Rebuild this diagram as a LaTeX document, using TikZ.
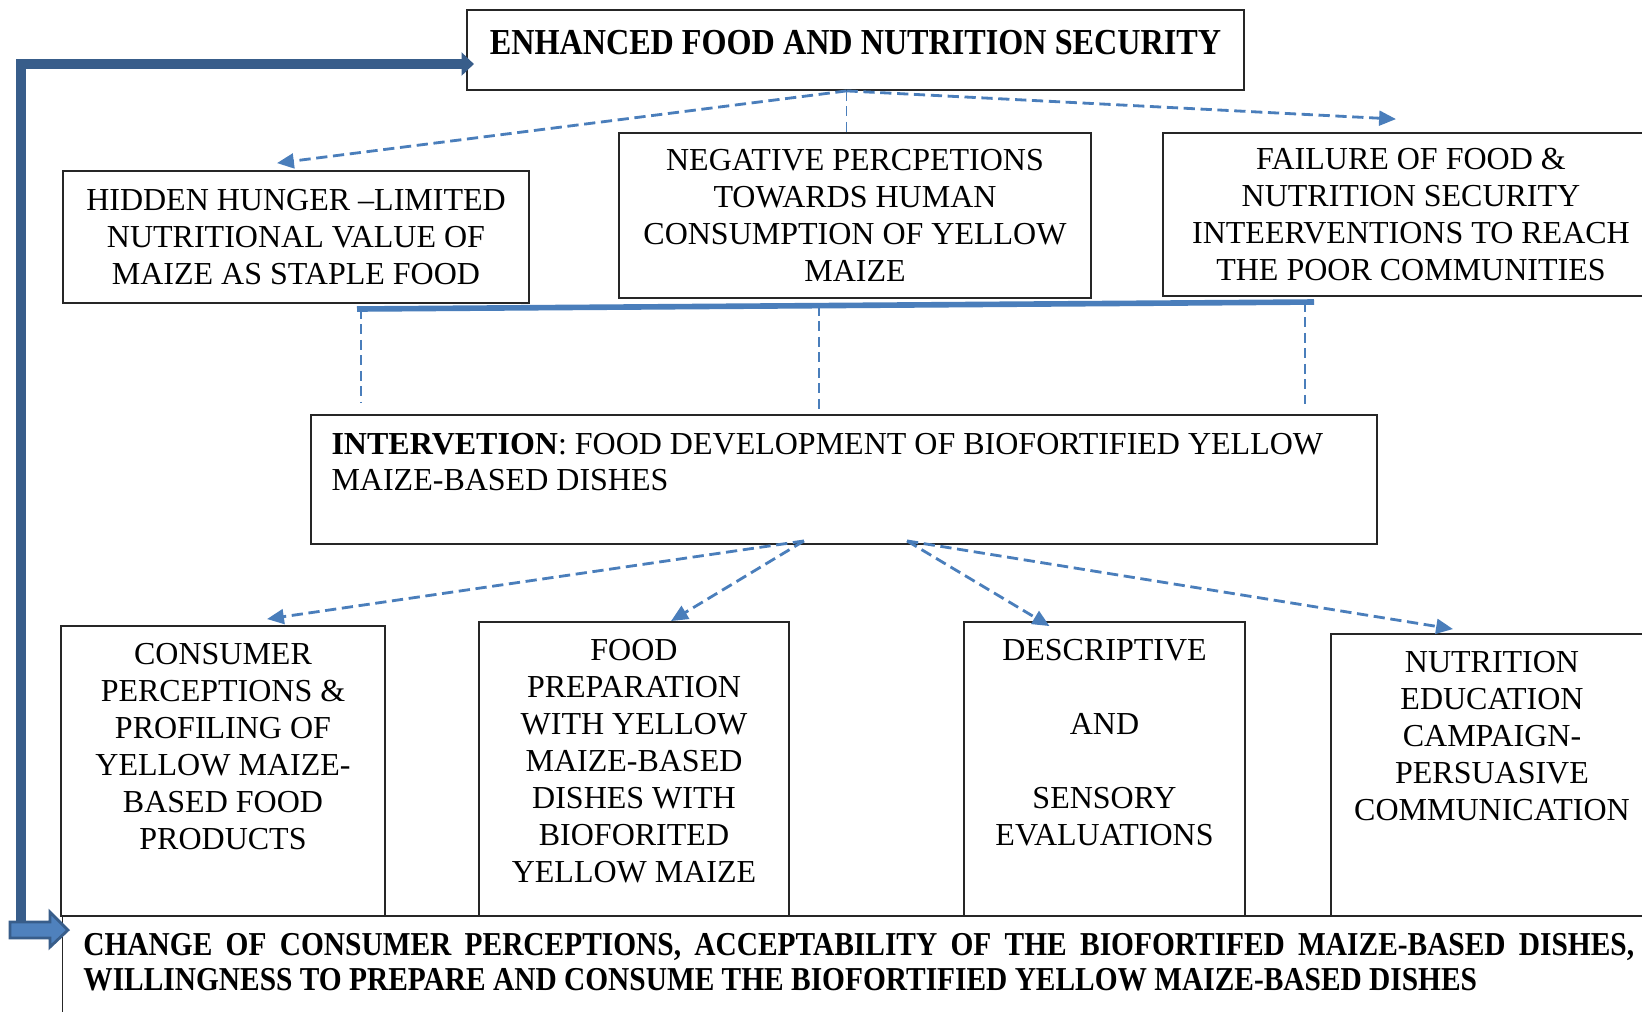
\documentclass[tikz,border=0pt]{standalone}
\usepackage{fontspec}
\setmainfont{Liberation Serif}
\newfontfamily\condfont[FakeStretch=0.88]{Liberation Serif}
\usepackage{xcolor}
\usetikzlibrary{arrows.meta,positioning}
\definecolor{darkblue}{HTML}{385D8A}
\definecolor{midblue}{HTML}{4A7EBB}
\definecolor{fillblue}{HTML}{4F81BD}

\begin{document}
\begin{tikzpicture}[x=0.01cm, y=-0.01cm,
    font=\fontsize{9.1}{10.5}\selectfont,
    box/.style={rectangle, draw=black!85, line width=0.5pt, inner sep=0pt, align=center},
    boxtext/.style={inner sep=0pt, align=center},
    dasharrow/.style={draw=midblue, line width=0.8pt, dash pattern=on 3.2pt off 1.6pt, -{Triangle[length=4.8pt,width=4.2pt]}},
    thindash/.style={draw=midblue, line width=0.4pt, dash pattern=on 2.8pt off 1.6pt},
    feedback/.style={draw=darkblue, line width=2.9pt}
]
    \useasboundingbox (0,0) rectangle (1642,1011);
    \clip (0,0) rectangle (1642,1011);
    \fill[white] (0,0) rectangle (1642,1011);

    % Goal
    \node[box, minimum width=7.77cm, text height=0.44cm, text depth=0.36cm] (goal) at (855.5,50)
        {\condfont\bfseries\fontsize{10.4}{12}\selectfont ENHANCED FOOD AND NUTRITION SECURITY};

    % Problems
    \node[box, minimum width=4.66cm, minimum height=1.32cm] (hidden) at (296,237)
        {HIDDEN HUNGER –LIMITED\\NUTRITIONAL VALUE OF\\MAIZE AS STAPLE FOOD};
    \node[box, minimum width=4.72cm, minimum height=1.65cm] (negative) at (855,215.5)
        {NEGATIVE PERCPETIONS\\TOWARDS HUMAN\\CONSUMPTION OF YELLOW\\MAIZE};
    \node[box, minimum width=4.96cm, minimum height=1.63cm] (failure) at (1411,214.5)
        {FAILURE OF FOOD \&\\NUTRITION SECURITY\\INTEERVENTIONS TO REACH\\THE POOR COMMUNITIES};

    % Intervention
    \node[box, minimum width=10.66cm, minimum height=1.29cm] (interv) at (844,479.5) {};
    \node[boxtext, align=left, below right=0.18cm and 0.21cm of interv.north west] (interv-t)
        {\textbf{INTERVETION}: FOOD DEVELOPMENT OF BIOFORTIFIED YELLOW\\MAIZE-BASED DISHES};

    % Activities
    \node[box, minimum width=3.24cm, minimum height=2.90cm] (cons) at (223,771) {};
    \node[boxtext, below=0.18cm of cons.north] (cons-t)
        {CONSUMER\\PERCEPTIONS \&\\PROFILING OF\\YELLOW MAIZE-\\BASED FOOD\\PRODUCTS};
    \node[box, minimum width=3.10cm, minimum height=2.94cm] (prep) at (634,769) {};
    \node[boxtext, below=0.18cm of prep.north] (prep-t)
        {FOOD\\PREPARATION\\WITH YELLOW\\MAIZE-BASED\\DISHES WITH\\BIOFORITED\\YELLOW MAIZE};
    \node[box, minimum width=2.81cm, minimum height=2.94cm] (desc) at (1104.5,769) {};
    \node[boxtext, below=0.18cm of desc.north] (desc-t)
        {DESCRIPTIVE\\\mbox{}\\AND\\\mbox{}\\SENSORY\\EVALUATIONS};
    \node[box, minimum width=3.22cm, minimum height=2.82cm] (nutr) at (1492,775) {};
    \node[boxtext, below=0.18cm of nutr.north] (nutr-t)
        {NUTRITION\\EDUCATION\\CAMPAIGN-\\PERSUASIVE\\COMMUNICATION};

    % Outcome
    \node[box, minimum width=15.92cm, minimum height=1.24cm] (change) at (859,978) {};
    \node[boxtext, align=justify, text width=15.50cm, below right=0.18cm and 0.21cm of change.north west,
        font=\condfont\bfseries\fontsize{9.5}{9.7}\selectfont] (change-t)
        {CHANGE OF CONSUMER PERCEPTIONS, ACCEPTABILITY OF THE BIOFORTIFED MAIZE-BASED DISHES,\linebreak
         WILLINGNESS TO PREPARE AND CONSUME THE BIOFORTIFIED YELLOW MAIZE-BASED DISHES};

    % Arrows from goal
    \coordinate (goalfork) at ([xshift=-0.09cm]goal.south);
    \draw[dasharrow] (goalfork) -- ([xshift=-0.19cm,yshift=0.07cm]hidden.north);
    \draw[dasharrow] (goalfork) -- ([xshift=-0.15cm,yshift=0.13cm]failure.north);
    \draw[thindash] (goalfork) -- (goalfork |- negative.north);

    % Bar under problems
    \coordinate (barL) at (357,309);
    \coordinate (barM) at (819,306);
    \coordinate (barR) at (1314,302);
    \draw[midblue, line width=1.6pt] (barL) -- (barR);
    \draw[thindash] ([xshift=0.04cm]barL) -- ++(0,93);
    \draw[thindash] (barM) -- (barM |- interv.north);
    \draw[thindash] ([xshift=-0.09cm]barR) -- ++(0,102);

    % Arrows from intervention
    \coordinate (forkL) at ([xshift=-0.40cm,yshift=0.04cm]interv.south);
    \coordinate (forkR) at ([xshift=0.63cm,yshift=0.04cm]interv.south);
    \draw[dasharrow] (forkL) -- ([xshift=0.44cm,yshift=0.06cm]cons.north);
    \draw[dasharrow] (forkL) -- ([xshift=0.37cm]prep.north);
    \draw[dasharrow] (forkR) -- ([xshift=-0.55cm,yshift=-0.05cm]desc.north);
    \draw[dasharrow] (forkR) -- ([xshift=-0.39cm,yshift=0.04cm]nutr.north);

    % Feedback loop
    \coordinate (loop) at (21,930);
    \draw[feedback, -{Triangle[length=3.5pt,width=6.5pt]}] (loop) |- ([xshift=0.08cm,yshift=-0.14cm]goal.west);
    \draw[draw=darkblue, fill=fillblue, line width=0.8pt]
        (10,922) -- (50,922) -- (50,912) -- (68,930) -- (50,947) -- (50,938) -- (10,938) -- cycle;
\end{tikzpicture}
\end{document}
